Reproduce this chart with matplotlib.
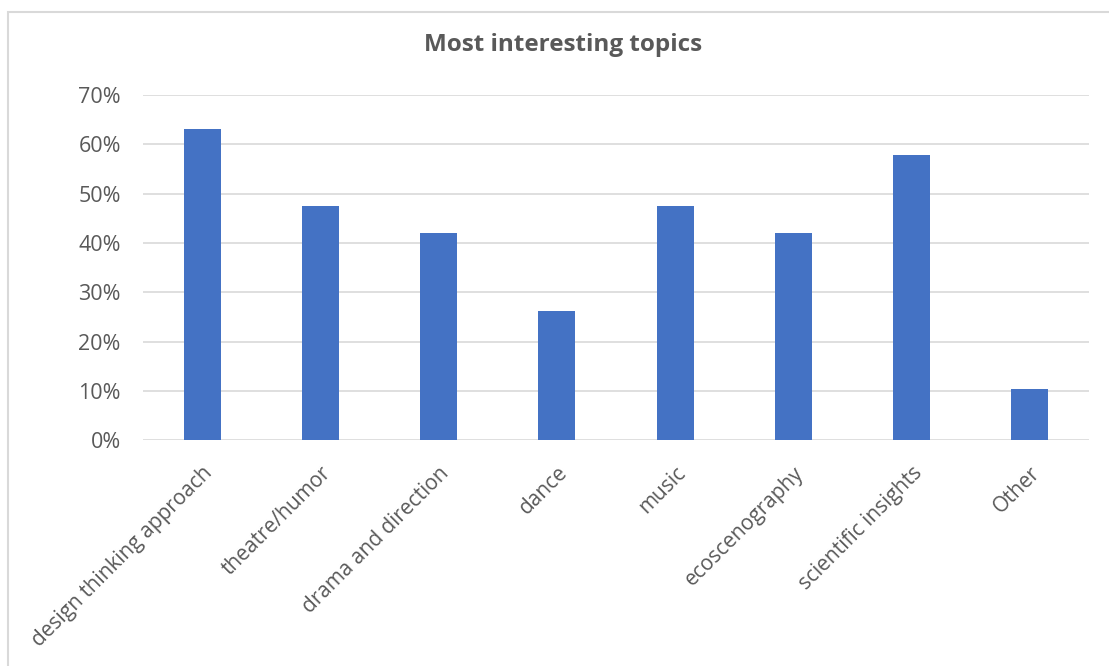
import matplotlib.pyplot as plt
from matplotlib.patches import Rectangle
from matplotlib.ticker import PercentFormatter

topics = ['design thinking approach', 'theatre/humor', 'drama and direction', 'dance',
          'music', 'ecoscenography', 'scientific insights', 'Other']
shares = [0.632, 0.474, 0.421, 0.263, 0.474, 0.421, 0.579, 0.105]
yticks = [0, 0.1, 0.2, 0.3, 0.4, 0.5, 0.6, 0.7]

plt.rcParams['font.family'] = ['Open Sans', 'DejaVu Sans']
grey = '#595959'

fig = plt.figure(figsize=(11.09, 6.66), dpi=100)
# chart frame (only left and top edges visible in the image)
fig.patches.append(Rectangle((8 / 1109, -0.1), 1.2, (660 - 6) / 666 + 0.1,
                             transform=fig.transFigure, fill=False,
                             edgecolor='#d9d9d9', linewidth=1.5))

ax = fig.add_axes([143 / 1109, (666 - 440.3) / 666, (1089 - 143) / 1109, (440.3 - 95) / 666])
x = range(len(topics))
ax.bar(x, shares, width=0.313, color='#4472c4', zorder=3)

ax.set_xlim(-0.5, len(topics) - 0.5)
ax.set_ylim(0, 0.7)
ax.set_yticks(yticks)
ax.yaxis.set_major_formatter(PercentFormatter(1.0, decimals=0))
ax.grid(axis='y', color='#d9d9d9', linewidth=1.2, zorder=0)
for s in ax.spines.values():
    s.set_visible(False)
ax.tick_params(axis='y', length=0, pad=16, labelsize=15.5, labelcolor=grey)
ax.tick_params(axis='x', length=0, pad=16)
ax.set_xticks(list(x))
ax.set_xticklabels(topics, rotation=45, ha='right', va='top', rotation_mode='anchor',
                   fontsize=15, color=grey)

fig.text(563 / 1109, 1 - 45 / 666, 'Most interesting topics', ha='center', va='center',
         fontsize=17.5, fontweight='bold', color=grey)

fig.savefig('out.png', dpi=100)
